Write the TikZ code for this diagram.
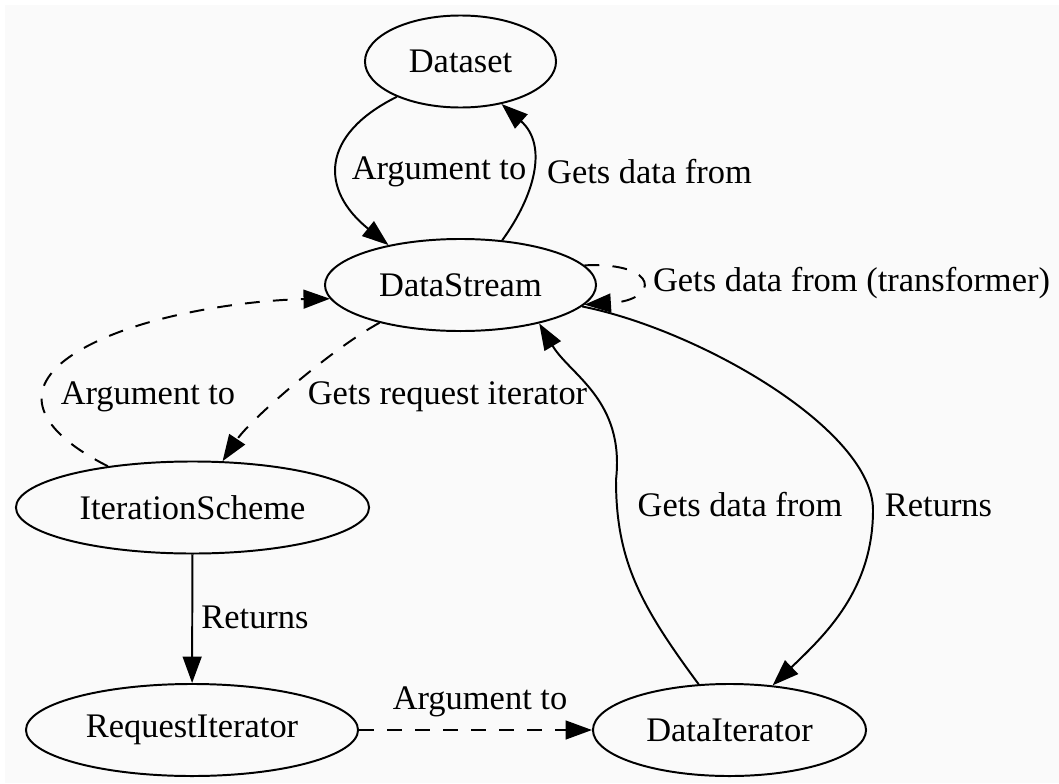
\documentclass[tikz,border=0pt]{standalone}
\usepackage{fontspec}
\setmainfont{Liberation Serif}
\usetikzlibrary{shapes.geometric,arrows.meta}
\definecolor{bggray}{RGB}{250,250,250}
\tikzset{
  state/.style={draw, ellipse, line width=1.4pt, inner sep=0pt, minimum height=2.3cm},
  lbl/.style={inner sep=0pt},
  link/.style={line width=1.4pt, -{Triangle[length=0.66cm,width=0.47cm]}},
  weak/.style={link, dash pattern=on 0.37cm off 0.33cm},
}
\begin{document}
\begin{tikzpicture}[x=0.025cm, y=-0.025cm, font=\fontsize{24.5}{29}\selectfont]
\useasboundingbox (0,0) rectangle (1059,783);
\fill[bggray] (5,5) rectangle (1059,783);

% nodes
\node[state, minimum width=4.775cm] (dataset) at (460.5,61.5) {Dataset};
\node[state, minimum width=6.775cm] (stream) at (460.5,285) {DataStream};
\node[state, minimum width=8.825cm] (scheme) at (192.5,507.5) {IterationScheme};
\node[state, minimum width=8.3cm] (reqit) at (192,730) {RequestIterator};
\node[state, minimum width=6.825cm] (datait) at (729.5,730) {DataIterator};

% edges
\draw[link] (dataset.-151) .. controls (320,135) and (320,190) .. (stream.151);
\draw[link] (stream.47) .. controls (535,195) and (548,145) .. (dataset.-46);
\draw[weak] (stream.9) .. controls (660,262) and (660,300) .. (stream.-9);
\draw[weak] (scheme.154) .. controls (40,432) and (15,390) .. (77,352)
  .. controls (139,314) and (250,300) .. (stream.-174.7);
\draw[weak] (stream.-155) .. controls (330,350) and (250,420) .. (scheme.57);
\draw[link] (scheme) -- (reqit);
\draw[weak] (reqit) -- (datait);
\draw[link] (datait.124) .. controls (640,605) and (616,560) .. (616,480)
  .. controls (625,400) and (570,375) .. (stream.-26.4);
\draw[link] (stream.-10.6) .. controls (700,330) and (873,430) .. (873,510)
  .. controls (873,590) and (825,635) .. (datait.46);

% labels
\node[lbl] (l1) at (439,172) {Argument to};
\node[lbl] (l2) at (649.5,172) {Gets data from};
\node[lbl] (l3) at (851.5,283) {Gets data from (transformer)};
\node[lbl] (l4) at (148,397) {Argument to};
\node[lbl] (l5) at (447.5,397) {Gets request iterator};
\node[lbl] (l6) at (255,617) {Returns};
\node[lbl] (l7) at (480,702) {Argument to};
\node[lbl] (l8) at (740,505) {Gets data from};
\node[lbl] (l9) at (938.5,505) {Returns};
\end{tikzpicture}
\end{document}
